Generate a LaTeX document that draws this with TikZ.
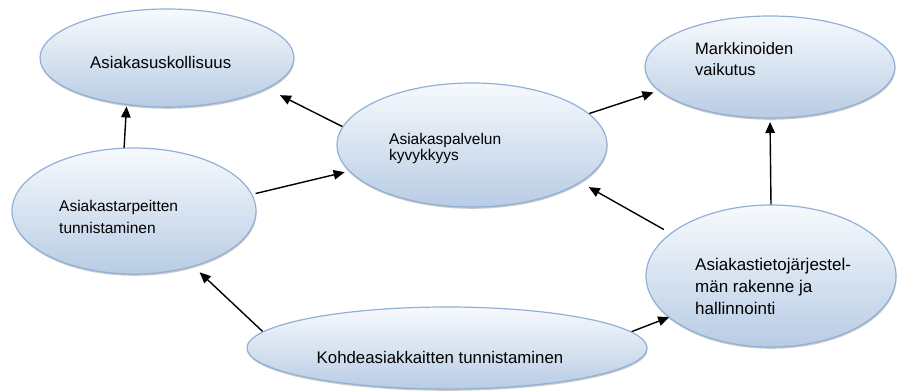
\documentclass[tikz,border=0pt]{standalone}
\usepackage{fontspec}
\setmainfont{Liberation Sans}
\usepackage{tikz}
\usetikzlibrary{arrows.meta,positioning,shapes.geometric,shadows}
\pgfdeclarelayer{edgelayer}
\pgfdeclarelayer{nodelayer}
\pgfsetlayers{edgelayer,nodelayer,main}
\definecolor{etop}{RGB}{247,250,253}
\definecolor{ebot}{RGB}{184,204,228}
\definecolor{eline}{RGB}{146,176,214}
\tikzstyle{factor}=[ellipse,draw=eline,line width=1.2pt,top color=etop,bottom color=ebot,inner sep=0pt,outer sep=0pt,drop shadow={shadow xshift=0.5pt,shadow yshift=-1.8pt,opacity=0.3,fill=black!70}]
\tikzstyle{words}=[inner sep=0pt,align=left,font=\fontsize{16.8}{22}\selectfont]
\tikzstyle{influence}=[-{Triangle[length=11pt,width=9.5pt]},line width=1.4pt,draw=black]
\tikzstyle{none}=[inner sep=0pt]

\begin{document}
\begin{tikzpicture}[x=1pt,y=-1pt]
	\useasboundingbox (0,0) rectangle (897,391);
	\begin{pgfonlayer}{nodelayer}
		\node [style=factor, minimum width=254, minimum height=98] (usk) at (167,58) {};
		\node [style=factor, minimum width=244, minimum height=126] (tarp) at (134,211) {};
		\node [style=factor, minimum width=270, minimum height=124] (palv) at (472,145) {};
		\node [style=factor, minimum width=250, minimum height=102] (mark) at (770,67) {};
		\node [style=factor, minimum width=250, minimum height=142] (tieto) at (771,276) {};
		\node [style=factor, minimum width=400, minimum height=82] (kohd) at (447,348) {};
		\node [style=words, anchor=base west] (uskT) at (90,68.3) {Asiakasuskollisuus};
		\node [style=words, anchor=north west, font=\fontsize{15.5}{22}\selectfont] (tarpT) at (59,200.4) {Asiakastarpeitten\\tunnistaminen};
		\node [style=words, anchor=north west, font=\fontsize{15.5}{16.5}\selectfont] (palvT) at (389,132.7) {Asiakaspalvelun\\kyvykkyys};
		\node [style=words, anchor=north west, font=\fontsize{16.5}{21}\selectfont] (markT) at (695,42.3) {Markkinoiden\\vaikutus};
		\node [style=words, anchor=north west, font=\fontsize{17}{22}\selectfont] (tietoT) at (695,257.6) {Asiakastietojärjestel-\\män rakenne ja\\hallinnointi};
		\node [style=words, anchor=base] (kohdT) at (440,363.3) {Kohdeasiakkaitten tunnistaminen};
	\end{pgfonlayer}
	\begin{pgfonlayer}{edgelayer}
		\draw [style=influence, shorten >=2pt] (tarp.99) to (usk.229);
		\draw [style=influence, shorten >=15pt] (palv.172) to (usk.343);
		\draw [style=influence, shorten <=4pt, shorten >=5pt] (tarp.8) to (palv.192);
		\draw [style=influence, shorten >=6pt] (palv.15) to (mark.192);
		\draw [style=influence, shorten >=4pt] (tieto.90) to (mark.270);
		\draw [style=influence, shorten <=8pt, shorten >=10pt] (tieto.157) to (palv.341);
		\draw [style=influence, shorten >=9pt] (kohd.175) to (tarp.317);
		\draw [style=influence] (kohd.5) to (tieto.202);
	\end{pgfonlayer}
\end{tikzpicture}
\end{document}
